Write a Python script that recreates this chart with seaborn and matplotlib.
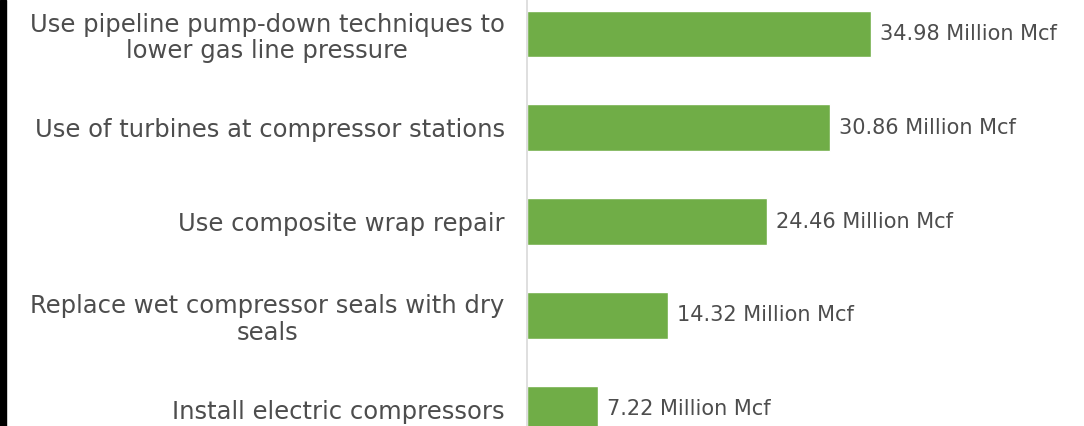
import pandas as pd
import seaborn as sns
import matplotlib.pyplot as plt
from matplotlib.patches import Rectangle

measures = ['Use pipeline pump-down techniques to\nlower gas line pressure',
            'Use of turbines at compressor stations',
            'Use composite wrap repair',
            'Replace wet compressor seals with dry\nseals',
            'Install electric compressors']
savings = [34.98, 30.86, 24.46, 14.32, 7.22]
unit = 'Million Mcf'

df = pd.DataFrame({'measure': measures, 'savings': savings})

sns.set_style('white')
plt.rcParams['font.family'] = ['DejaVu Sans']

fig = plt.figure(figsize=(10.84, 4.26), dpi=100)
ax = fig.add_axes([527 / 1084, 0, 1 - 527 / 1084, 1])

sns.barplot(data=df, x='savings', y='measure', orient='h', color='#70AD47',
            width=0.5, saturation=1, ax=ax)

ax.set_xlim(0, 56.66)
ax.set_ylim(4.181, -0.363)
ax.set_xlabel('')
ax.set_ylabel('')
ax.set_xticks([])
for s in ['top', 'right', 'bottom']:
    ax.spines[s].set_visible(False)
ax.spines['left'].set_color('#D9D9D9')
ax.spines['left'].set_linewidth(1.2)
ax.tick_params(axis='y', length=0, pad=16)
for lbl in ax.get_yticklabels():
    lbl.set_fontsize(17.5)
    lbl.set_color('#4d4d4d')
    lbl.set_multialignment('center')
    lbl.set_linespacing(1.15)

for i, v in enumerate(savings):
    ax.text(v + 0.9, i, f'{v:.2f} {unit}', va='center', ha='left',
            fontsize=15, color='#4d4d4d')

# black edge on the left side
fig.patches.append(Rectangle((0, 0), 6 / 1084, 1, transform=fig.transFigure,
                             color='black', zorder=10))

fig.savefig('out.png', dpi=100)
